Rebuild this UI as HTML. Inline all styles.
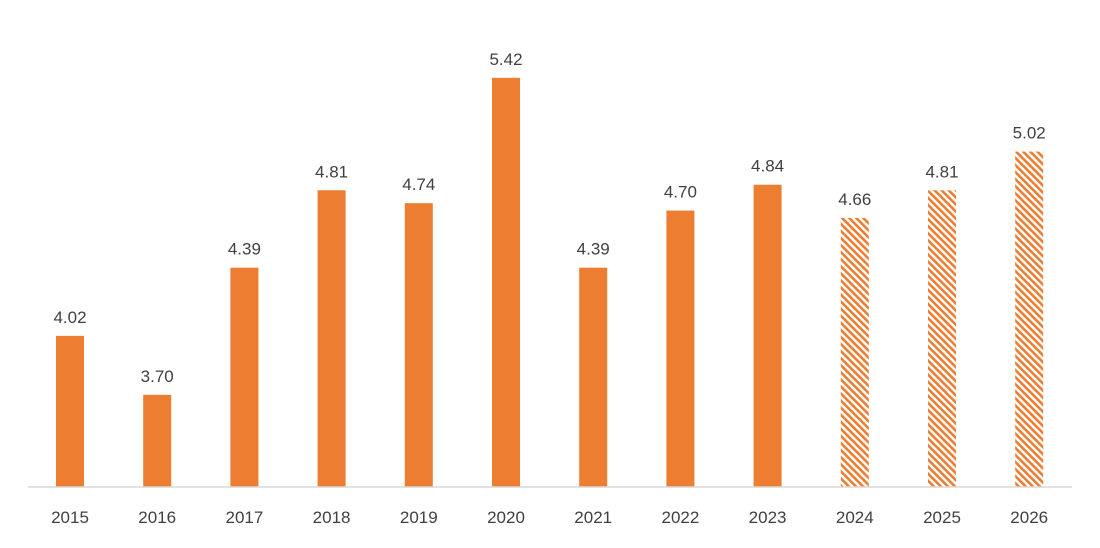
<!DOCTYPE html>
<html><head><meta charset="utf-8"><style>
body{margin:0;background:#fff;}
svg text{font-family:"Liberation Sans",sans-serif;fill:#404040;}
</style></head><body>
<svg id="chart" width="1100" height="543" viewBox="0 0 1100 543">
<defs>
<pattern id="hatch" patternUnits="userSpaceOnUse" width="5" height="5" patternTransform="rotate(-45)">
<rect width="5" height="5" fill="#fff"/>
<rect width="2.6" height="5" fill="#ED7D31"/>
</pattern>
</defs>
<g id="bars"></g>
<line x1="28" y1="487" x2="1072" y2="487" stroke="#d9d9d9" stroke-width="1.5"/>
</svg>
<script>
const categories=["2015","2016","2017","2018","2019","2020","2021","2022","2023","2024","2025","2026"];
const values=[4.02,3.70,4.39,4.81,4.74,5.42,4.39,4.70,4.84,4.66,4.81,5.02];
const forecast=[false,false,false,false,false,false,false,false,false,true,true,true];
const yMin=3.2, yMax=5.55;
const plotTop=487-(yMax-yMin)*184.3, baseY=487;
function y(v){return baseY-(v-yMin)/(yMax-yMin)*(baseY-plotTop);}
function x(i){return 70+i*87.2;}
const g=document.getElementById('bars');
const ns="http://www.w3.org/2000/svg";
categories.forEach((c,i)=>{
  const r=document.createElementNS(ns,'rect');
  
  
  r.setAttribute('x',x(i)-14);r.setAttribute('width',28);
  r.setAttribute('y',y(values[i]));r.setAttribute('height',baseY-y(values[i]));
  r.setAttribute('fill',forecast[i]?'url(#hatch)':'#ED7D31');
  g.appendChild(r);
  const t=document.createElementNS(ns,'text');
  
  
  t.setAttribute('x',x(i));t.setAttribute('y',y(values[i])-13);
  t.setAttribute('text-anchor','middle');t.setAttribute('font-size','17');
  t.textContent=values[i].toFixed(2);
  g.appendChild(t);
  const l=document.createElementNS(ns,'text');
  
  
  l.setAttribute('x',x(i));l.setAttribute('y',523);
  l.setAttribute('text-anchor','middle');l.setAttribute('font-size','17');
  l.textContent=c;
  g.appendChild(l);
});
</script>
</body></html>
